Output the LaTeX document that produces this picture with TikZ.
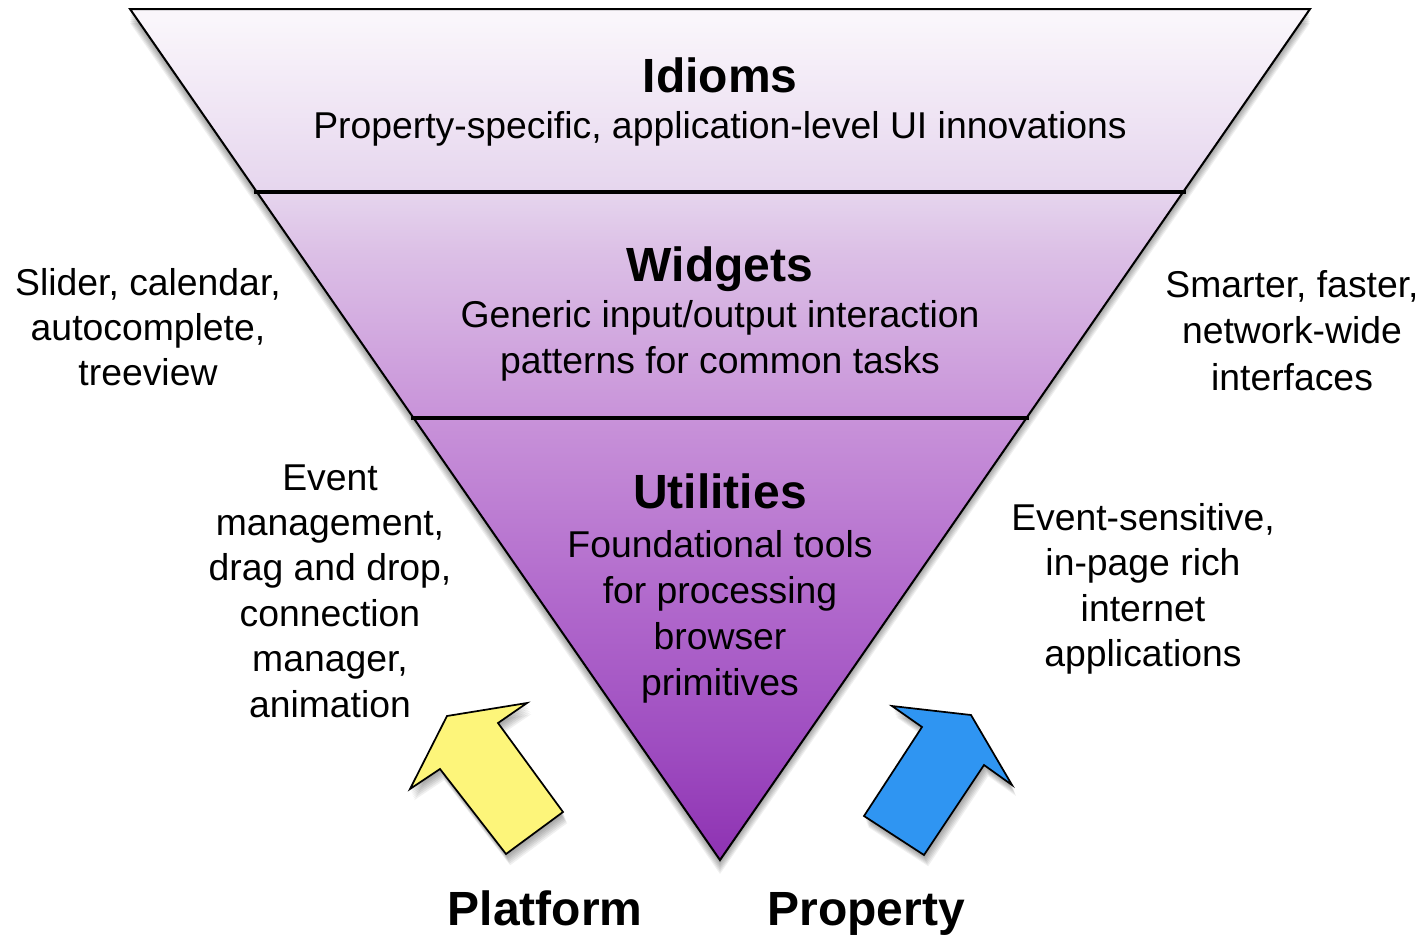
\documentclass[tikz,border=0pt]{standalone}
\usepackage{fontspec}
\setmainfont{Liberation Sans}
\usetikzlibrary{calc}
\definecolor{c0}{HTML}{8E32B2}
\definecolor{c1}{HTML}{9E4CC0}
\definecolor{c2}{HTML}{B169CC}
\definecolor{c3}{HTML}{C892D9}
\definecolor{c4}{HTML}{DCC0E6}
\definecolor{c5}{HTML}{E6D6EE}
\definecolor{c6}{HTML}{FAF6FB}
\definecolor{arrowyellow}{HTML}{FDF57A}
\definecolor{arrowblue}{HTML}{2F95F2}
\pgfdeclareverticalshading{funnel}{100bp}{color(0bp)=(c0); color(25bp)=(c0); color(31.5bp)=(c1); color(40.3bp)=(c2); color(50.9bp)=(c3); color(60.8bp)=(c4); color(64.4bp)=(c5); color(74.4bp)=(c6); color(100bp)=(c6)}
\begin{document}
\begin{tikzpicture}[x=0.75pt,y=-0.75pt,
  txt/.style={font=\fontsize{28}{32}\selectfont, inner sep=0pt, anchor=base},
  ttl/.style={font=\fontsize{36}{40}\selectfont\bfseries, inner sep=0pt, anchor=base},
  outline/.style={draw=black, line width=1.5pt, line join=miter},
  divider/.style={draw=black, line width=3pt},
  shadowcopy/.style={fill=black, fill opacity=0.06, draw=none}]
\useasboundingbox (0,0) rectangle (1425,936);
\fill[white] (0,0) rectangle (1425,936);
\coordinate (TL) at (130,9);
\coordinate (TR) at (1310,9);
\coordinate (AP) at (720,860);
\coordinate (D1L) at ($(TL)!0.2150!(AP)$);
\coordinate (D1R) at ($(TR)!0.2150!(AP)$);
\coordinate (D2L) at ($(TL)!0.4806!(AP)$);
\coordinate (D2R) at ($(TR)!0.4806!(AP)$);
% shadows
\foreach \d in {2,4,6,8,10,12,14}{
  \fill[shadowcopy] ([yshift=-\d*0.75pt]TL) -- ([yshift=-\d*0.75pt]TR) -- ([yshift=-\d*0.75pt]AP) -- cycle;
  \fill[shadowcopy] ($(440,769)+(\d*0.3,\d*0.8)$) -- ++(-30,20) -- ++(37,-73) -- ++(80,-13) -- ++(-29,20) -- ++(65,89) -- ++(-57,42) -- cycle;
  \fill[shadowcopy] ($(864,816)+(\d*0.3,\d*0.8)$) -- ++(58,-89) -- ++(-30,-21) -- ++(79,9) -- ++(41,70) -- ++(-28,-20) -- ++(-60,90) -- cycle;
}
% funnel
\shade[shading=funnel] (TL) -- (TR) -- (AP) -- cycle;
\draw[outline] (TL) -- (TR) -- (AP) -- cycle;
\draw[divider] ([xshift=-2pt]D1L) -- ([xshift=2pt]D1R);
\draw[divider] ([xshift=-2pt]D2L) -- ([xshift=2pt]D2R);
% arrows
\draw[fill=arrowyellow, line width=1.3pt, line join=miter] (506,854) -- (563,812) -- (498,723) -- (527,703) -- (447,716) -- (410,789) -- (440,769) -- cycle;
\draw[fill=arrowblue, line width=1.3pt, line join=miter] (864,816) -- (924,855) -- (984,765) -- (1012,785) -- (971,715) -- (892,706) -- (922,727) -- cycle;
% texts inside
\node[ttl] (idioms) at (720,92) {Idioms};
\node[txt] (idiomsd) at (720,138) {Property-specific, application-level UI innovations};
\node[ttl] (widgets) at (720,281) {Widgets};
\node[txt] (widgetsa) at (720,327) {Generic input/output interaction};
\node[txt] (widgetsb) at (720,373) {patterns for common tasks};
\node[ttl] (utils) at (720,508) {Utilities};
\node[txt] (utilsa) at (720,557) {Foundational tools};
\node[txt] (utilsb) at (720,603) {for processing};
\node[txt] (utilsc) at (720,649) {browser};
\node[txt] (utilsd) at (720,695) {primitives};
% left texts
\node[txt] (la1) at (148,295) {Slider, calendar,};
\node[txt] (la2) at (148,340) {autocomplete,};
\node[txt] (la3) at (148,385) {treeview};
\node[txt] (lb1) at (330,490) {Event};
\node[txt] (lb2) at (330,535.4) {management,};
\node[txt] (lb3) at (330,580.8) {drag and drop,};
\node[txt] (lb4) at (330,626.2) {connection};
\node[txt] (lb5) at (330,671.6) {manager,};
\node[txt] (lb6) at (330,717) {animation};
% right texts
\node[txt] (ra1) at (1292,297) {Smarter, faster,};
\node[txt] (ra2) at (1292,343) {network-wide};
\node[txt] (ra3) at (1292,390) {interfaces};
\node[txt] (rb1) at (1143,530) {Event-sensitive,};
\node[txt] (rb2) at (1143,575.5) {in-page rich};
\node[txt] (rb3) at (1143,621) {internet};
\node[txt] (rb4) at (1143,666.5) {applications};
% bottom labels
\node[ttl] (platform) at (545,925) {Platform};
\node[ttl] (property) at (866,925) {Property};
\end{tikzpicture}
\end{document}
